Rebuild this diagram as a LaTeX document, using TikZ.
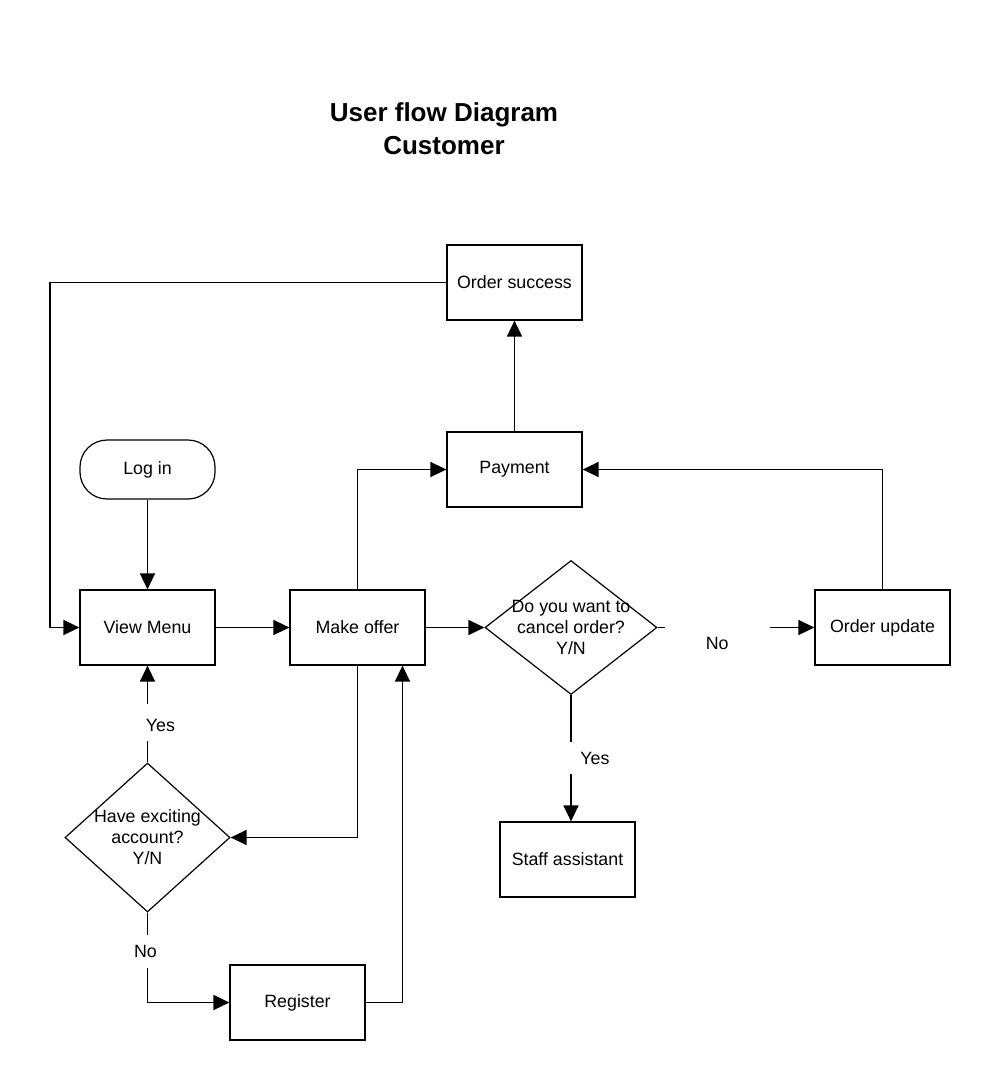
\documentclass[tikz,border=0pt]{standalone}
\usepackage{fontspec}
\setmainfont{Liberation Sans}
\usetikzlibrary{arrows.meta,positioning,shapes.geometric}

\begin{document}
\begin{tikzpicture}[x=1pt, y=-1pt,
    font=\fontsize{17.8pt}{21pt}\selectfont,
    box/.style={draw, line width=1.2pt, minimum width=135pt, minimum height=75pt, align=center},
    startbox/.style={box, rounded corners=27pt, minimum height=59pt},
    decide/.style={draw, diamond, line width=1.2pt, inner sep=0pt},
    arr/.style={-{Triangle[length=16pt, width=15pt]}, line width=1.4pt},
    gap/.style={fill=white, inner sep=0pt, minimum width=6pt, minimum height=6pt},
]
  \useasboundingbox (0,0) rectangle (1000,1090);

  \node[align=center, font=\fontsize{26pt}{33pt}\selectfont\bfseries] (title) at (444,129) {User flow Diagram\\Customer};

  \node[box] (success) at (514.5,282.5) {Order success};
  \node[box] (payment) at (514.5,469.5) {Payment};
  \node[startbox] (login) at (147.5,469.5) {Log in};
  \node[box] (menu) at (147.5,627.5) {View Menu};
  \node[box] (offer) at (357.5,627.5) {Make offer};
  \node[decide, minimum width=172pt, minimum height=134pt,
        label={[align=center]center:Do you want to\\cancel order?\\Y/N}] (cancel) at (571,627.5) {};
  \node[box] (update) at (882.5,627.5) {Order update};
  \node[box] (staff) at (567.5,859.5) {Staff assistant};
  \node[decide, minimum width=165pt, minimum height=149pt,
        label={[align=center]center:Have exciting\\account?\\Y/N}] (account) at (147.5,837.5) {};
  \node[box] (register) at (297.5,1002.5) {Register};

  \coordinate (loopx) at (50,0);

  % main path
  \draw[arr] (success.west) -| (loopx |- menu.west) -- (menu.west);
  \draw[arr] (login) -- (menu);
  \draw[arr] (menu) -- (offer);
  \draw[arr] (offer.north) |- (payment.west);
  \draw[arr] (offer) -- (cancel);
  \draw[arr] (payment) -- (success);

  % decisions
  \draw[arr] (cancel.east) -- node[pos=.38, gap, minimum width=105pt]{} node[pos=.38, yshift=-16pt]{No} (update.west);
  \draw[arr] (cancel.south) -- node[gap, minimum height=32pt]{} node[xshift=24pt]{Yes} (cancel.south |- staff.north);
  \draw[arr] (update.north) |- (payment.east);
  \draw[arr] (account.north) -- node[pos=.41, gap, minimum height=37pt]{} node[pos=.41, xshift=13pt, yshift=-3pt]{Yes} (menu.south);
  \draw[arr] (offer.south) |- (account.east);
  \draw[arr] (account.south) |- node[pos=.217, gap, minimum height=33pt]{} node[pos=.217, xshift=-2pt]{No} (register.west);
  \draw[arr] (register.east) -| ([xshift=45pt]offer.south);
\end{tikzpicture}
\end{document}
